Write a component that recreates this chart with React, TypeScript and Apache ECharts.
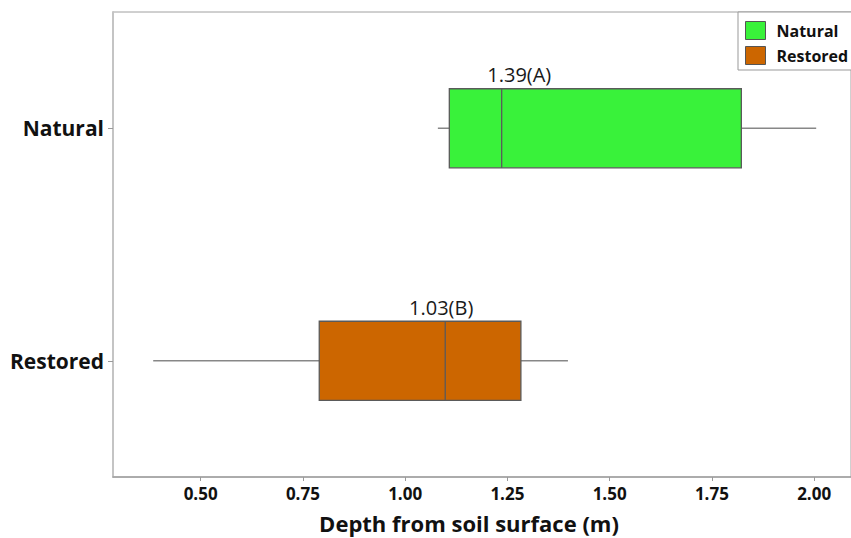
import React, { useEffect, useRef } from "react";
import * as echarts from "echarts";

// Category axis (bottom to top)
const categories = ["Restored", "Natural"];
const groupNames = ["Natural", "Restored"];
// Box values: [min, q1, median, q3, max]
const naturalBox = [1.08, 1.108, 1.236, 1.822, 2.005];
const restoredBox = [0.384, 0.79, 1.098, 1.283, 1.398];
// Mean annotations and the depth value each one is centred on
const meanLabels = ["1.39(A)", "1.03(B)"];
const meanLabelAt = [1.279, 1.088];
const xTicks = [0.5, 0.75, 1.0, 1.25, 1.5, 1.75, 2.0];
const xTitle = "Depth from soil surface (m)";

const FONT = "'Open Sans', 'Noto Sans', sans-serif";
const fills = ["#39F23A", "#CC6600"];

function makeSeries(name: string, catIndex: number, box: number[], label: string, labelAt: number, fill: string) {
  return {
    type: "custom",
    name,
    itemStyle: { color: fill },
    encode: { x: [1, 2, 3, 4, 5, 6], y: 0 },
    data: [[catIndex, ...box, labelAt]],
    renderItem: (params: any, api: any) => {
      const cat = api.value(0);
      const px = (v: number) => api.coord([v, cat])[0];
      const y = api.coord([api.value(1), cat])[1];
      const h = api.size([0, 1])[1] * 0.34;
      const xMin = px(api.value(1));
      const xQ1 = px(api.value(2));
      const xMed = px(api.value(3));
      const xQ3 = px(api.value(4));
      const xMax = px(api.value(5));
      const xLab = px(api.value(6));
      const whisker = { stroke: "#878787", lineWidth: 1.5 };
      const edge = "#5a5a5a";
      return {
        type: "group",
        children: [
          { type: "line", shape: { x1: xMin, y1: y, x2: xQ1, y2: y }, style: whisker },
          { type: "line", shape: { x1: xQ3, y1: y, x2: xMax, y2: y }, style: whisker },
          {
            type: "rect",
            shape: { x: xQ1, y: y - h / 2, width: xQ3 - xQ1, height: h },
            style: { fill, stroke: edge, lineWidth: 1.3 },
          },
          {
            type: "line",
            shape: { x1: xMed, y1: y - h / 2, x2: xMed, y2: y + h / 2 },
            style: { stroke: edge, lineWidth: 1.3 },
          },
          {
            type: "text",
            x: xLab,
            y: y - h / 2 - 14,
            style: {
              text: label,
              fill: "#1a1a1a",
              font: `400 20px ${FONT}`,
              textAlign: "center",
              textVerticalAlign: "middle",
            },
          },
        ],
      };
    },
  };
}

export default function App() {
  const ref = useRef<HTMLDivElement>(null);
  useEffect(() => {
    if (!ref.current) return;
    const chart = echarts.init(ref.current, null, { renderer: "svg" });
    const option: any = {
      animation: false,
      backgroundColor: "#ffffff",
      grid: {
        left: 113,
        right: -3,
        top: 12,
        bottom: 61,
        show: true,
        borderColor: "#a0a0a0",
        borderWidth: 1,
      },
      xAxis: {
        type: "value",
        min: 0.2857,
        max: 2.0901,
        axisLine: { show: true, lineStyle: { color: "#a0a0a0", width: 1.5 } },
        axisTick: { show: true, customValues: xTicks, length: 4, lineStyle: { color: "#9a9a9a" } },
        axisLabel: {
          customValues: xTicks,
          formatter: (v: number) => v.toFixed(2),
          fontFamily: FONT,
          fontWeight: "bold",
          fontSize: 17,
          color: "#111",
          margin: 8,
        },
        splitLine: { show: false },
      },
      yAxis: {
        type: "category",
        data: categories,
        axisLine: { show: true, lineStyle: { color: "#c4c4c4", width: 2 } },
        axisTick: { show: true, alignWithLabel: true, length: 5, lineStyle: { color: "#9a9a9a" } },
        axisLabel: {
          fontFamily: FONT,
          fontWeight: "bold",
          fontSize: 21,
          color: "#111",
          margin: 9,
        },
        splitLine: { show: false },
      },
      legend: {
        orient: "vertical",
        left: 738,
        top: 12,
        padding: [9, 30, 5, 7],
        itemWidth: 20,
        itemHeight: 18,
        itemGap: 6,
        icon: "rect",
        borderColor: "#999",
        borderWidth: 1,
        backgroundColor: "#fff",
        textStyle: {
          fontFamily: FONT,
          fontWeight: "bold",
          fontSize: 16,
          color: "#111",
          padding: [0, 0, 0, 6],
        },
        data: groupNames.map((n, i) => ({
          name: n,
          itemStyle: { color: fills[i], borderColor: "#555", borderWidth: 1 },
        })),
      },
      graphic: [
        {
          type: "text",
          x: 469,
          y: 523,
          style: {
            text: xTitle,
            font: `bold 22px ${FONT}`,
            fill: "#111",
            textAlign: "center",
            textVerticalAlign: "middle",
          },
        },
      ],
      series: [
        makeSeries(groupNames[0], categories.indexOf("Natural"), naturalBox, meanLabels[0], meanLabelAt[0], fills[0]),
        makeSeries(groupNames[1], categories.indexOf("Restored"), restoredBox, meanLabels[1], meanLabelAt[1], fills[1]),
      ],
    };
    chart.setOption(option);
    return () => chart.dispose();
  }, []);
  return (
    <div
      ref={ref}
      style={{ position: "absolute", left: 0, top: 0, width: 851, height: 538 }}
    />
  );
}
